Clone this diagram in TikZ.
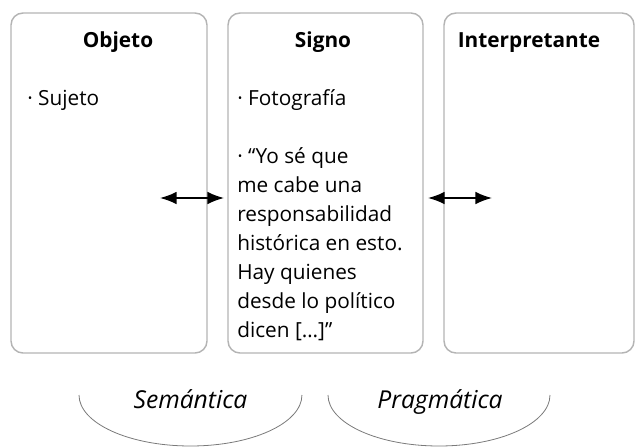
\documentclass[tikz,border=0pt]{standalone}
\usepackage{fontspec}
\setmainfont{Open Sans}
\usetikzlibrary{arrows.meta}

\definecolor{boxgray}{HTML}{B4B4B4}
\definecolor{arcgray}{HTML}{7A7A7A}

\tikzset{
    box/.style={draw=boxgray, line width=1.1pt, rounded corners=9pt, minimum height=255pt, inner sep=0pt},
    title/.style={font=\bfseries\fontsize{15.6}{21.75}\selectfont, anchor=base, inner sep=0pt},
    body/.style={font=\fontsize{15.6}{21.75}\selectfont, anchor=base west, align=left, inner sep=0pt},
    field/.style={font=\itshape\fontsize{18.5}{22}\selectfont, anchor=base, inner sep=0pt},
    link/.style={{Latex[length=12.5pt,width=9.5pt]}-{Latex[length=12.5pt,width=9.5pt]}, line width=1.2pt}
}

\begin{document}
\begin{tikzpicture}[x=0.75pt, y=-0.75pt]
    \useasboundingbox (0,0) rectangle (635,447);

    % Cajas
    \node[box, minimum width=147pt] (obj) at (109,183) {};
    \node[box, minimum width=146.25pt] (sig) at (325.5,183) {};
    \node[box, minimum width=142.5pt] (int) at (539,183) {};

    % Titulos
    \node[title] (tobj) at (118,47) {Objeto};
    \node[title] (tsig) at (323,47) {Signo};
    \node[title] (tint) at (529,47) {Interpretante};

    % Contenido
    \node[body] (sujeto) at (27,105) {· Sujeto};
    \node[body] (foto) at (237,105) {· Fotografía};
    \node[body] (cita) at (237,337) {· “Yo sé que\\me cabe una\\responsabilidad\\histórica en esto.\\Hay quienes\\desde lo político\\dicen […]”};

    % Relaciones
    \coordinate (l1) at (160,198);
    \coordinate (r1) at (224,198);
    \coordinate (l2) at (428,198);
    \coordinate (r2) at (492,198);
    \draw[link] (l1) -- (r1);
    \draw[link] (l2) -- (r2);

    % Semantica y pragmatica
    \draw[arcgray, line width=0.6pt] (79,395) arc[start angle=180, end angle=360, x radius=83.6pt, y radius=38.25pt];
    \draw[arcgray, line width=0.6pt] (328,395) arc[start angle=180, end angle=360, x radius=83.25pt, y radius=38.25pt];
    \node[field] (sem) at (190.5,408) {Semántica};
    \node[field] (prag) at (440,408) {Pragmática};
\end{tikzpicture}
\end{document}
